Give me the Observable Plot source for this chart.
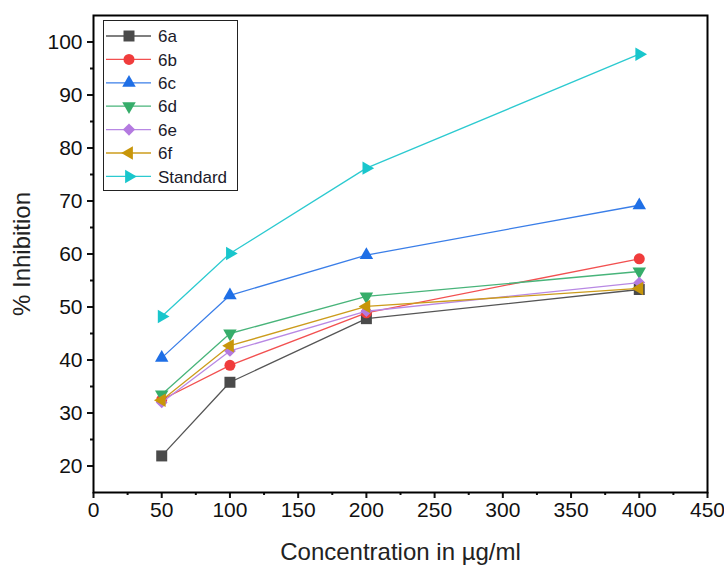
<!DOCTYPE html>
<html><head><meta charset="utf-8">
<script src="https://cdn.jsdelivr.net/npm/d3@7"></script>
<script src="https://cdn.jsdelivr.net/npm/@observablehq/plot@0.6"></script>
<style>
body{margin:0;background:#fff;}
#wrap{position:relative;width:724px;height:569px;font-family:'Liberation Sans',Arial,sans-serif;}
#legend{position:absolute;left:103px;top:20px;width:135px;height:171px;border:1px solid #222;background:#fff;box-sizing:border-box;}
</style></head><body><div id="wrap"></div>
<script>
const concentrations = [50, 100, 200, 400];
const s6a = [21.9, 35.8, 47.8, 53.3];
const s6b = [32.5, 39.0, 48.9, 59.1];
const s6c = [40.4, 52.2, 59.8, 69.2];
const s6d = [33.5, 45.0, 52.0, 56.7];
const s6e = [32.0, 41.7, 49.2, 54.6];
const s6f = [32.4, 42.7, 50.1, 53.5];
const sStd = [48.2, 60.1, 76.2, 97.7];
const seriesNames = ["6a", "6b", "6c", "6d", "6e", "6f", "Standard"];
const seriesValues = [s6a, s6b, s6c, s6d, s6e, s6f, sStd];
const markerColors = ["#4a4a4a", "#f03c3c", "#1f6fe6", "#36ad6a", "#b47ae0", "#c8960a", "#19c6cc"];
const lineColors = ["#555555", "#f25050", "#3a7ee8", "#48b47a", "#b888e4", "#cc9c1c", "#2ccad0"];
const symbols = ["square", "circle", "triangle", "triangle", "diamond2", "triangle", "triangle"];
const rotations = [0, 0, 0, 180, 0, -90, 90];
const sizes = [6.2, 5.5, 5, 5, 5.3, 5, 5];
const xTicks = d3.range(0, 451, 50);
const xMinor = d3.range(25, 450, 50);
const yTicks = d3.range(20, 101, 10);
const yMinor = d3.range(25, 101, 10);
const xTitle = "Concentration in µg/ml";
const yTitle = "% Inhibition";

const data = seriesNames.flatMap((name, i) =>
  concentrations.map((c, j) => ({series: name, conc: c, value: seriesValues[i][j], idx: i})));

const marks = [
  Plot.axisX({ticks: xTicks, tickSize: 6, tickPadding: 4, fontSize: 21, strokeWidth: 2, color: "#111"}),
  Plot.axisX({ticks: xMinor, tickSize: 3, strokeWidth: 2, tickFormat: () => "", color: "#111"}),
  Plot.axisY({ticks: yTicks, tickSize: 6, tickPadding: 5, fontSize: 21, strokeWidth: 2, color: "#111"}),
  Plot.axisY({ticks: yMinor, tickSize: 3, strokeWidth: 2, tickFormat: () => "", color: "#111"}),
  Plot.text([xTitle], {frameAnchor: "bottom", textAnchor: "middle", dy: 67, fontSize: 24, fill: "#222", text: d => d}),
  Plot.text([yTitle], {frameAnchor: "left", textAnchor: "middle", dx: -71, rotate: -90, fontSize: 24, fill: "#222", text: d => d})
];
seriesNames.forEach((name, i) => {
  const d = data.filter(r => r.idx === i);
  marks.push(Plot.line(d, {x: "conc", y: "value", stroke: lineColors[i], strokeWidth: 1.3}));
  marks.push(Plot.dot(d, {x: "conc", y: "value", symbol: () => symbols[i], fill: markerColors[i], stroke: "none", r: sizes[i], rotate: rotations[i]}));
});
marks.push(Plot.frame({stroke: "#000", strokeWidth: 2}));

const chart = Plot.plot({
  width: 724, height: 569,
  marginLeft: 93, marginRight: 17, marginTop: 15, marginBottom: 77,
  style: {fontFamily: "'Liberation Sans', Arial, sans-serif", background: "white", overflow: "visible"},
  x: {domain: [0, 450], label: null},
  y: {domain: [15, 105], label: null},
  symbol: {type: "identity"},
  marks
});
const wrap = document.getElementById("wrap");
wrap.appendChild(chart);

// legend
const legend = document.createElement("div");
legend.id = "legend";
const ns = "http://www.w3.org/2000/svg";
const lsvg = document.createElementNS(ns, "svg");
lsvg.setAttribute("width", 133); lsvg.setAttribute("height", 169);
const symMap = {square: d3.symbolSquare, circle: d3.symbolCircle, triangle: d3.symbolTriangle};
seriesNames.forEach((name, i) => {
  const cy = 15 + i * 23.4;
  const g = d3.select(lsvg).append("g");
  g.append("line").attr("x1", 2).attr("x2", 47).attr("y1", cy).attr("y2", cy).attr("stroke", lineColors[i]).attr("stroke-width", 1.3);
  const isDiamond = symbols[i] === "diamond2";
  const sym = isDiamond ? d3.symbolSquare : symMap[symbols[i]];
  const rot = isDiamond ? 45 : rotations[i];
  g.append("path").attr("d", d3.symbol(sym, Math.PI * sizes[i] * sizes[i] * (isDiamond ? 0.85 : 1))())
    .attr("transform", `translate(25,${cy}) rotate(${rot})`).attr("fill", markerColors[i]);
  g.append("text").attr("x", 54).attr("y", cy).attr("dy", "0.36em").attr("font-size", 17).attr("fill", "#1a1a2a")
    .attr("font-family", "'Liberation Sans', Arial, sans-serif").text(name);
});
legend.appendChild(lsvg);
wrap.appendChild(legend);
</script></body></html>
